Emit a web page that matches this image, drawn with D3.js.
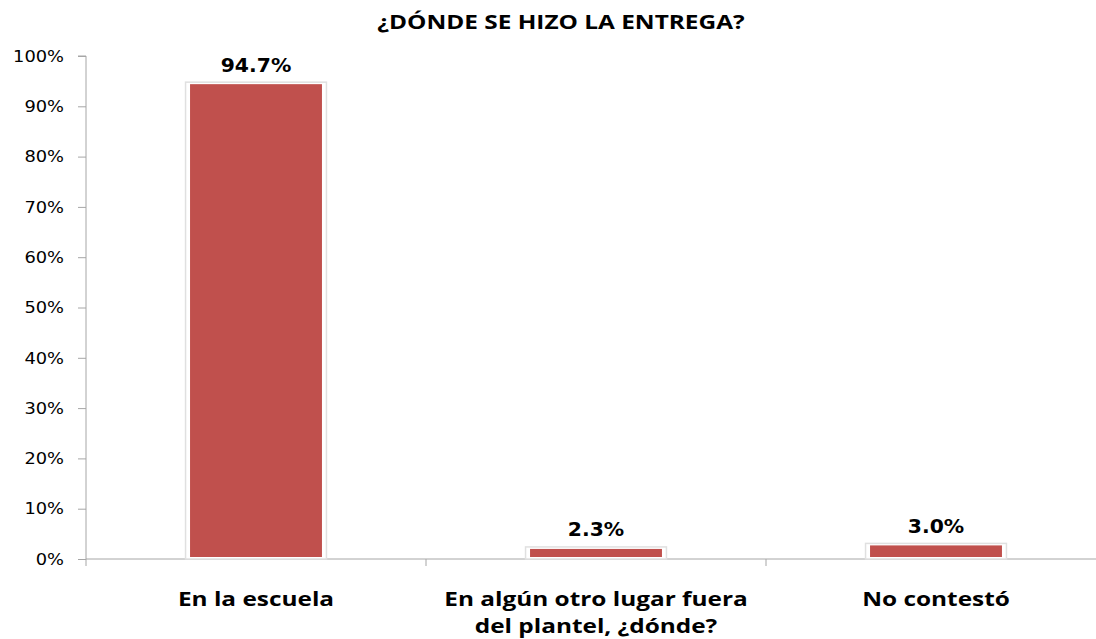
<!DOCTYPE html>
<html>
<head>
<meta charset="utf-8">
<script src="https://cdnjs.cloudflare.com/ajax/libs/d3/7.8.5/d3.min.js"></script>
<style>
  body { margin: 0; background: #fff; }
  svg { display: block; }
</style>
</head>
<body>
<div id="chart"></div>
<script>
const title = '¿DÓNDE SE HIZO LA ENTREGA?';
const categories = ['En la escuela', 'En algún otro lugar fuera del plantel, ¿dónde?', 'No contestó'];
const categoryLines = [['En la escuela'], ['En algún otro lugar fuera', 'del plantel, ¿dónde?'], ['No contestó']];
const values = [94.7, 2.3, 3.0];
const yTicks = [0, 10, 20, 30, 40, 50, 60, 70, 80, 90, 100];

const width = 1096;
const height = 639;
const margin = { top: 56, right: -10, bottom: 80, left: 86 };

// the original picture is a bit wider than tall, so text gets stretched
function stretch(sel, factor) {
    sel.each(function () {
        const len = this.getComputedTextLength();
        d3.select(this)
            .attr('textLength', len * factor)
            .attr('lengthAdjust', 'spacingAndGlyphs');
    });
}

const svg = d3.select('#chart')
    .append('svg')
    .attr('width', width)
    .attr('height', height);

const x = d3.scaleBand()
    .domain(categories)
    .range([margin.left, width - margin.right])
    .paddingInner(0.612)
    .paddingOuter(0.306);

const y = d3.scaleLinear()
    .domain([0, 100])
    .range([height - margin.bottom, margin.top]);

// title
const titleText = svg.append('text')
    .attr('x', 561)
    .attr('y', 29)
    .attr('text-anchor', 'middle')
    .style('font-family', '"Open Sans", sans-serif')
    .style('font-size', '19.5px')
    .style('font-weight', 'bold')
    .text(title);
stretch(titleText, 1.25);

// y axis
const yAxis = svg.append('g')
    .attr('transform', `translate(${margin.left},0)`)
    .call(d3.axisLeft(y).tickValues(yTicks).tickSize(8).tickPadding(14).tickFormat(d => d + '%'));
yAxis.select('.domain').attr('stroke', '#a6a6a6').attr('d', `M-8,${y(100)}H0V${y(0) + 7}`);
yAxis.selectAll('.tick line').attr('stroke', '#a6a6a6');
yAxis.selectAll('.tick text')
    .style('font-family', '"DejaVu Sans", Verdana, sans-serif')
    .style('font-size', '16.5px')
    .attr('fill', '#000');
stretch(yAxis.selectAll('.tick text'), 1.08);

// x axis line + boundary ticks
const step = x.step();
const bounds = d3.range(categories.length + 1).map(i => margin.left + i * step);
svg.append('line')
    .attr('x1', margin.left).attr('x2', width)
    .attr('y1', y(0)).attr('y2', y(0))
    .attr('stroke', '#a6a6a6');
svg.selectAll('.xtick')
    .data(bounds.slice(1))
    .enter()
    .append('line')
    .attr('x1', d => d).attr('x2', d => d)
    .attr('y1', y(0)).attr('y2', y(0) + 7)
    .attr('stroke', '#a6a6a6');

// bar glow
svg.selectAll('.bar-glow')
    .data(values)
    .enter()
    .append('rect')
    .attr('x', (d, i) => x(categories[i]) - 4.5)
    .attr('y', d => y(d) - 0.5)
    .attr('width', x.bandwidth() + 9)
    .attr('height', d => y(0) - y(d) + 0.5)
    .attr('fill', '#fff')
    .attr('stroke', '#e0e0e0')
    .attr('stroke-width', 1.5);

// bars
svg.selectAll('.bar')
    .data(values)
    .enter()
    .append('rect')
    .attr('x', (d, i) => x(categories[i]))
    .attr('y', d => y(d) + 1.5)
    .attr('width', x.bandwidth())
    .attr('height', d => y(0) - y(d) - 3.5)
    .attr('fill', '#C0504D');

// value labels
const valText = svg.selectAll('.val')
    .data(values)
    .enter()
    .append('text')
    .attr('x', (d, i) => x(categories[i]) + x.bandwidth() / 2)
    .attr('y', d => y(d) - 11)
    .attr('text-anchor', 'middle')
    .style('font-family', '"DejaVu Sans", Verdana, sans-serif')
    .style('font-size', '19px')
    .style('font-weight', 'bold')
    .text(d => d.toFixed(1) + '%');
stretch(valText, 1.07);

// category labels
categoryLines.forEach((lines, i) => {
    const cx = x(categories[i]) + x.bandwidth() / 2;
    const t = svg.append('text')
        .attr('x', cx)
        .attr('y', 606)
        .attr('text-anchor', 'middle')
        .style('font-family', '"Open Sans", sans-serif')
        .style('font-size', '19.5px')
        .style('font-weight', 'bold');
    lines.forEach((l, j) => {
        t.append('tspan')
            .attr('x', cx)
            .attr('dy', j === 0 ? 0 : 27)
            .text(l);
    });
    stretch(t.selectAll('tspan'), 1.25);
});
</script>
</body>
</html>
